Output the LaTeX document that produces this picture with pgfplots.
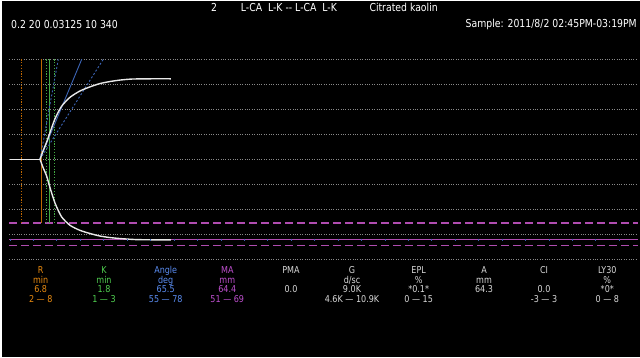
\documentclass[border=0pt]{standalone}
\usepackage{pgfplots}
\pgfplotsset{compat=1.18}
\usepackage{fontspec}
\setmainfont{DejaVu Sans}[FakeStretch=0.85]
\definecolor{gridc}{HTML}{8A8A8A}
\definecolor{mag}{HTML}{B04CB0}
\definecolor{orgc}{HTML}{C06800}
\definecolor{grnc}{HTML}{44AA44}
\definecolor{bluc}{HTML}{3C64B4}
\definecolor{trace}{HTML}{E8E8E8}
\definecolor{tR}{HTML}{E88A10}
\definecolor{tK}{HTML}{50D050}
\definecolor{tA}{HTML}{5A8CF0}
\definecolor{tM}{HTML}{C050D0}
\definecolor{tW}{HTML}{D8D8D8}
\newcommand\col[6]{%
  \node[anchor=base,text=#2,inner sep=0pt,font=\fontsize{9.5}{10}\selectfont] at (#1,83.5) {#3};
  \node[anchor=base,text=#2,inner sep=0pt,font=\fontsize{9.5}{10}\selectfont] at (#1,74) {#4};
  \node[anchor=base,text=#2,inner sep=0pt,font=\fontsize{9.5}{10}\selectfont] at (#1,64.5) {#5};
  \node[anchor=base,text=#2,inner sep=0pt,font=\fontsize{9.5}{10}\selectfont] at (#1,54.5) {#6};
}
\begin{document}
\begin{tikzpicture}[x=1bp,y=1bp]
\fill[white] (0,0) rectangle (640,357);
\fill[black] (2,0) rectangle (640,355.5);
\begin{axis}[at={(9.3bp,97.7bp)}, anchor=south west, scale only axis,
  width=628.7bp, height=200bp, xmin=-0.15, xmax=134, ymin=-40, ymax=40,
  clip=false, axis line style={draw=none}, xtick=\empty,
  ytick={-40,-30,...,40}, yticklabels={}, major tick length=0pt,
  ymajorgrids, grid style={gridc, line width=0.9bp, dash pattern=on 1bp off 1.4bp}]
% MA range and MA value lines
\addplot[mag, line width=1.2bp, dash pattern=on 8bp off 4bp] coordinates {(-0.15,-25.5) (134,-25.5)};
\addplot[mag, line width=1.2bp, dash pattern=on 8bp off 4bp] coordinates {(-0.15,-34.5) (134,-34.5)};
\addplot[mag, line width=1.1bp] coordinates {(-0.15,-32.2) (134,-32.2)};
\addplot[only marks, mark=|, mark size=1.3bp, mark options={bluc, line width=0.8bp}] coordinates {
(0,-32.2) (5,-32.2) (10,-32.2) (15,-32.2) (20,-32.2) (25,-32.2) (30,-32.2) (35,-32.2) (40,-32.2) (45,-32.2)
(50,-32.2) (55,-32.2) (60,-32.2) (65,-32.2) (70,-32.2) (75,-32.2) (80,-32.2) (85,-32.2) (90,-32.2) (95,-32.2)
(100,-32.2) (105,-32.2) (110,-32.2) (115,-32.2) (120,-32.2) (125,-32.2) (130,-32.2)};
% R and K lines
\addplot[orgc, line width=1.1bp, dash pattern=on 1.2bp off 1.6bp] coordinates {(2.5,40) (2.5,-25.5)};
\addplot[orgc, line width=1.1bp] coordinates {(6.8,40) (6.8,-25.5)};
\addplot[grnc, line width=1.1bp, dash pattern=on 1.2bp off 1.6bp] coordinates {(7.7,40) (7.7,-25.5)};
\addplot[grnc, line width=1.2bp] coordinates {(8.5,40) (8.5,-25.5)};
\addplot[grnc, line width=1.1bp, dash pattern=on 1.2bp off 1.6bp] coordinates {(9.5,40) (9.5,-25.5)};
% angle lines
\addplot[bluc, line width=0.9bp] coordinates {(6.4,0) (15.3,40)};
\addplot[bluc, line width=0.9bp, dash pattern=on 2bp off 2bp] coordinates {(6.4,0) (10.3,40)};
\addplot[bluc, line width=0.9bp, dash pattern=on 2bp off 2bp] coordinates {(6.4,0) (19.9,40)};
% trace
\addplot[trace, line width=1.4bp] coordinates {(-0.1,0) (6.4,0)};
\addplot[trace, line width=1.4bp, smooth, tension=0.4] coordinates {(6.4,0) (7.1,3.6) (7.8,6.8) (8.5,10.5) (9.6,16.2) (11.0,21.2) (12.8,24.8) (14.9,27.3) (17.1,29.0) (19.2,30.3) (21.3,31.1) (23.5,31.7) (26.0,32.1) (30,32.2) (34.3,32.2)};
\addplot[trace, line width=1.4bp, smooth, tension=0.4] coordinates {(6.4,0) (7.1,-3.5) (7.8,-6.6) (8.5,-11.1) (9.6,-17.5) (11.0,-23.0) (12.8,-26.4) (14.9,-28.4) (17.1,-29.7) (19.2,-30.7) (21.3,-31.3) (23.5,-31.7) (26.7,-32.1) (30,-32.2) (34.3,-32.2)};
\end{axis}
% header texts
\begin{scope}[every node/.style={text=white, inner sep=0pt, font=\fontsize{11}{12}\selectfont}]
\node[anchor=center] at (214,349.5) {2};
\node[anchor=west] at (240.7,349.5) {L-CA\ \ L-K -{}- L-CA\ \ L-K};
\node[anchor=west] at (369.3,349.5) {Citrated kaolin};
\node[anchor=west] at (11,332) {0.2 20 0.03125 10 340};
\node[anchor=east] at (637,333) {Sample: 2011/8/2 02:45PM-03:19PM};
\end{scope}
% results table
\col{40.7}{tR}{R}{min}{6.8}{2 — 8}
\col{104}{tK}{K}{min}{1.8}{1 — 3}
\col{165.7}{tA}{Angle}{deg}{65.5}{55 — 78}
\col{227.3}{tM}{MA}{mm}{64.4}{51 — 69}
\col{291}{tW}{PMA}{}{0.0}{}
\col{352}{tW}{G}{d/sc}{9.0K}{4.6K — 10.9K}
\col{418.7}{tW}{EPL}{\%}{*0.1*}{0 — 15}
\col{484}{tW}{A}{mm}{64.3}{}
\col{544}{tW}{CI}{}{0.0}{-3 — 3}
\col{607.3}{tW}{LY30}{\%}{*0*}{0 — 8}
\pgfresetboundingbox
\path (0,0) rectangle (640,357);
\end{tikzpicture}
\end{document}
